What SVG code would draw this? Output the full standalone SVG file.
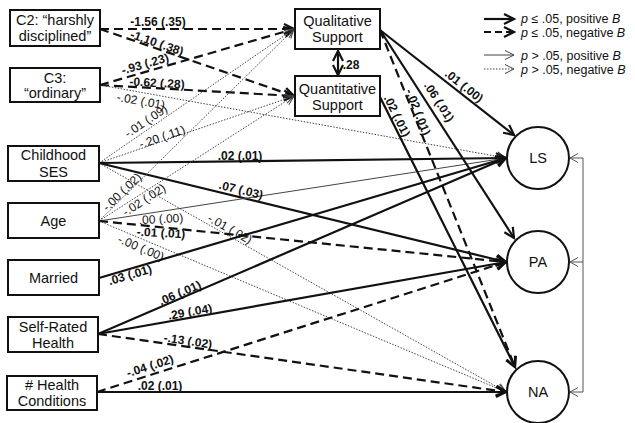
<svg xmlns="http://www.w3.org/2000/svg" width="635" height="423" viewBox="0 0 635 423">
<style>
text{font-family:"Liberation Sans",Arial,sans-serif;fill:#111}
.nt{font-size:14.5px;text-anchor:middle}
.el{font-size:12px;font-weight:bold;text-anchor:middle}
.en{font-weight:normal}
.lg{font-size:12.5px}
.box{fill:#fff;stroke:#111;stroke-width:2}
.sp{stroke:#111;stroke-width:2.2;fill:none;marker-end:url(#ah)}
.sn{stroke:#111;stroke-width:2.2;stroke-dasharray:9 5;fill:none;marker-end:url(#ah)}
.np{stroke:#444;stroke-width:1;fill:none;marker-end:url(#at)}
.nn{stroke:#444;stroke-width:1;stroke-dasharray:1.5 1.5;fill:none;marker-end:url(#at)}
.fb{stroke:#555;stroke-width:1;fill:none}
</style>
<defs>
<marker id="ah" viewBox="-13 -7 15 14" refX="0" refY="0" markerWidth="15" markerHeight="14" markerUnits="userSpaceOnUse" orient="auto-start-reverse"><path d="M-10,-5 L0,0 L-10,5" fill="none" stroke="#111" stroke-width="2.2"/></marker>
<marker id="at" viewBox="-12 -7 14 14" refX="0" refY="0" markerWidth="14" markerHeight="14" markerUnits="userSpaceOnUse" orient="auto"><path d="M-9,-4.5 L0,0 L-9,4.5" fill="none" stroke="#444" stroke-width="1"/></marker>
<marker id="af" viewBox="-12 -7 14 14" refX="0" refY="0" markerWidth="14" markerHeight="14" markerUnits="userSpaceOnUse" orient="auto"><path d="M-8,-4.5 L0,0 L-8,4.5" fill="none" stroke="#555" stroke-width="1"/></marker>
</defs>
<rect width="635" height="423" fill="#fff"/>

<g id="connectors">
<path class="sn" d="M100,29 L294,29"/>
<path class="sn" d="M100,29 L294,96"/>
<path class="sn" d="M100,85 L294,29"/>
<path class="sn" d="M100,85 L294,96"/>
<path class="nn" d="M100,85 L506,158"/>
<path class="nn" d="M99,163 L294,29"/>
<path class="nn" d="M99,163 L294,96"/>
<path class="sp" d="M99,163 L506,158"/>
<path class="sp" d="M99,163 L506,262"/>
<path class="nn" d="M99,163 L506,392"/>
<path class="nn" d="M99,221 L294,29"/>
<path class="nn" d="M99,221 L294,96"/>
<path class="np" d="M99,221 L506,158"/>
<path class="sn" d="M99,221 L506,262"/>
<path class="nn" d="M99,221 L506,392"/>
<path class="sp" d="M99,278 L506,158"/>
<path class="sp" d="M98,334 L506,158"/>
<path class="sp" d="M98,334 L506,262"/>
<path class="sn" d="M98,334 L506,392"/>
<path class="sn" d="M97,392 L506,262"/>
<path class="sp" d="M97,392 L506,392"/>
<path class="sp" d="M380,30 L514,135"/>
<path class="sp" d="M380,30 L514,238"/>
<path class="sn" d="M380,30 L515,367"/>
<path class="sp" d="M380,97 L515,367"/>
<path class="sp" d="M338,51 L338,75" marker-start="url(#ah)"/>
<path class="fb" d="M583,158 L583,392"/>
<path class="fb" d="M583,158 L570,158" marker-end="url(#af)"/>
<path class="fb" d="M583,262 L570,262" marker-end="url(#af)"/>
<path class="fb" d="M583,392 L570,392" marker-end="url(#af)"/>
</g>

<g id="edge-labels">
<text class="el" transform="translate(158,22)" y="4">-1.56 (.35)</text>
<text class="el" transform="translate(157,43) rotate(19)" y="4">-1.10 (.38)</text>
<text class="el" transform="translate(145,64) rotate(-16)" y="4">-.93 (.23)</text>
<text class="el" transform="translate(157,83) rotate(3)" y="4">-0.62 (.28)</text>
<text class="el en" transform="translate(141,101) rotate(10)" y="4">-.02 (.01)</text>
<text class="el en" transform="translate(146,121) rotate(-34)" y="4">-.01 (.09)</text>
<text class="el en" transform="translate(162,137) rotate(-19)" y="4">-.20 (.11)</text>
<text class="el" transform="translate(240,156)" y="4">.02 (.01)</text>
<text class="el" transform="translate(241,190) rotate(13.7)" y="4">.07 (.03)</text>
<text class="el en" transform="translate(230,229) rotate(29)" y="4">-.01 (.02)</text>
<text class="el en" transform="translate(122,192) rotate(-44)" y="4">-.00 (.02)</text>
<text class="el en" transform="translate(144,200) rotate(-33)" y="4">-.02 (.02)</text>
<text class="el en" transform="translate(161,219) rotate(-3)" y="4">.00 (.00)</text>
<text class="el" transform="translate(161,233) rotate(3)" y="4">-.01 (.01)</text>
<text class="el en" transform="translate(141,248) rotate(22.8)" y="4">-.00 (.00)</text>
<text class="el" transform="translate(130,275) rotate(-16.5)" y="4">.03 (.01)</text>
<text class="el" transform="translate(180,293) rotate(-23.3)" y="4">.06 (.01)</text>
<text class="el" transform="translate(190,312) rotate(-9.9)" y="4">.29 (.04)</text>
<text class="el" transform="translate(188,341) rotate(8.3)" y="4">-.13 (.02)</text>
<text class="el" transform="translate(150,366) rotate(-17.7)" y="4">-.04 (.02)</text>
<text class="el" transform="translate(160,386)" y="4">.02 (.01)</text>
<text class="el" transform="translate(464,86) rotate(38.3)" y="4">.01 (.00)</text>
<text class="el" transform="translate(439,102) rotate(57.3)" y="4">.06 (.01)</text>
<text class="el" transform="translate(418,112) rotate(68.5)" y="4">-.02 (.01)</text>
<text class="el" transform="translate(397,116) rotate(63.8)" y="4">.02 (.01)</text>
<text class="el" x="351" y="69">.28</text>
</g>

<g id="C2"><rect class="box" x="10" y="10" width="90" height="36"/><text class="nt" x="55" y="25">C2: “harshly</text><text class="nt" x="55" y="41">disciplined”</text></g>
<g id="C3"><rect class="box" x="10" y="68" width="90" height="34"/><text class="nt" x="55" y="83">C3:</text><text class="nt" x="55" y="98">“ordinary”</text></g>
<g id="ChildhoodSES"><rect class="box" x="8" y="146" width="91" height="35"/><text class="nt" x="53.5" y="160">Childhood</text><text class="nt" x="53.5" y="177">SES</text></g>
<g id="Age"><rect class="box" x="8" y="203" width="91" height="35"/><text class="nt" x="53.5" y="225.5">Age</text></g>
<g id="Married"><rect class="box" x="8" y="260" width="91" height="35"/><text class="nt" x="53.5" y="282.5">Married</text></g>
<g id="SelfRatedHealth"><rect class="box" x="8" y="317" width="90" height="35"/><text class="nt" x="53" y="332">Self-Rated</text><text class="nt" x="53" y="348">Health</text></g>
<g id="HealthConditions"><rect class="box" x="7" y="376" width="90" height="34"/><text class="nt" x="52" y="389.5"># Health</text><text class="nt" x="52" y="406">Conditions</text></g>
<g id="Qualitative"><rect class="box" x="295" y="9" width="85" height="40"/><text class="nt" x="337.5" y="26">Qualitative</text><text class="nt" x="337.5" y="42">Support</text></g>
<g id="Quantitative"><rect class="box" x="295" y="76" width="85" height="40"/><text class="nt" x="337.5" y="94">Quantitative</text><text class="nt" x="337.5" y="110">Support</text></g>
<g id="LS"><circle cx="538" cy="158" r="31" fill="#fff" stroke="#111" stroke-width="2"/><text class="nt" x="538" y="163">LS</text></g>
<g id="PA"><circle cx="538" cy="262" r="31" fill="#fff" stroke="#111" stroke-width="2"/><text class="nt" x="538" y="267">PA</text></g>
<g id="NA"><circle cx="538" cy="392" r="31" fill="#fff" stroke="#111" stroke-width="2"/><text class="nt" x="538" y="397">NA</text></g>

<g id="legend">
<path class="sp" d="M484,19 L514,19"/>
<path class="sn" style="stroke-dasharray:7 4" d="M484,32 L514,32"/>
<path class="np" d="M484,55 L514,55"/>
<path class="nn" d="M484,69 L514,69"/>
<text class="lg" x="521" y="23"><tspan font-style="italic">p</tspan> ≤ .05, positive <tspan font-style="italic">B</tspan></text>
<text class="lg" x="521" y="37"><tspan font-style="italic">p</tspan> ≤ .05, negative <tspan font-style="italic">B</tspan></text>
<text class="lg" x="521" y="59.5"><tspan font-style="italic">p</tspan> &gt; .05, positive <tspan font-style="italic">B</tspan></text>
<text class="lg" x="521" y="74"><tspan font-style="italic">p</tspan> &gt; .05, negative <tspan font-style="italic">B</tspan></text>
</g>
</svg>
